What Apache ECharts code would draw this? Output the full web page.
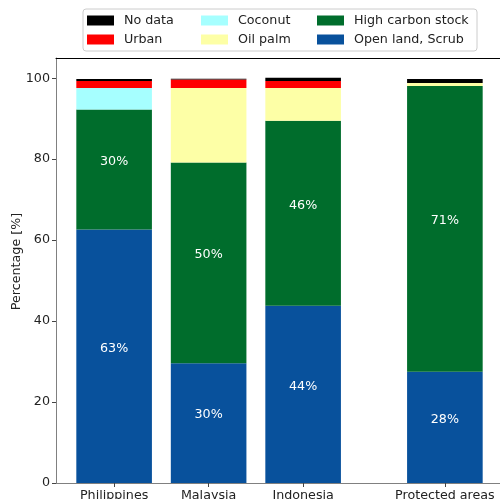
<!DOCTYPE html>
<html>
<head>
<meta charset="utf-8">
<script src="https://cdn.jsdelivr.net/npm/echarts@6/dist/echarts.min.js"></script>
<style>
  html, body { margin: 0; padding: 0; background: #fff; }
  #chart { width: 500px; height: 499px; }
</style>
</head>
<body>
<div id="chart"></div>
<script>
// bar names and where they sit on the x axis (gap before the last one)
var categories = ['Philippines', 'Malaysia', 'Indonesia', 'Protected areas'];
var positions = [0, 1, 2, 3.5];

// percentages, stacked bottom to top
var openLand = [62.6, 29.6, 43.8, 27.5];
var highCarbon = [29.7, 49.6, 45.7, 70.6];
var oilPalm = [0, 18.4, 8.1, 0.7];
var coconut = [5.3, 0, 0, 0];
var urban = [1.7, 2.1, 1.7, 0];
var noData = [0.5, 0.15, 0.8, 1.0];

var yTicks = [0, 20, 40, 60, 80, 100];

var font = 'DejaVu Sans';
var fs = 12.7;

// value first so the stack runs on y, position second (mapped to x by encode)
function pairs(values) {
  return values.map(function (v, i) { return [v, positions[i]]; });
}

function makeSeries(name, values, color, withLabel) {
  var s = {
    name: name,
    type: 'bar',
    stack: 'total',
    barWidth: 75.6,
    encode: { x: 1, y: 0 },
    itemStyle: { color: color },
    data: pairs(values)
  };
  if (withLabel) {
    s.label = {
      show: true,
      position: 'inside',
      offset: [0, -8],
      color: '#ffffff',
      fontFamily: font,
      fontSize: fs,
      formatter: function (p) { return Math.round(p.value[0]) + '%'; }
    };
  }
  return s;
}

function legendBlock(left, names) {
  return {
    orient: 'vertical',
    left: left,
    top: 14,
    padding: 0,
    itemWidth: 27,
    itemHeight: 10,
    itemGap: 6,
    icon: 'rect',
    selectedMode: false,
    textStyle: { fontFamily: font, fontSize: fs, color: '#222', padding: [0, 0, 0, 5] },
    data: names
  };
}

var chart = echarts.init(document.getElementById('chart'));
var option = {
  animation: false,
  graphic: [{
    type: 'rect',
    z: -1,
    shape: { x: 83, y: 9, width: 394, height: 42, r: 3 },
    style: { fill: '#fff', stroke: '#cccccc', lineWidth: 1 }
  }],
  legend: [
    legendBlock(87, ['No data', 'Urban']),
    legendBlock(201, ['Coconut', 'Oil palm']),
    legendBlock(317, ['High carbon stock', 'Open land, Scrub'])
  ],
  grid: { left: 56, top: 58, width: 447, height: 425, containLabel: false, outerBoundsMode: 'none' },
  xAxis: [{
    type: 'value',
    min: -0.615,
    max: 4.115,
    splitLine: { show: false },
    axisLine: { onZero: false, lineStyle: { color: '#808080', width: 1 } },
    axisTick: { customValues: positions, length: 4, lineStyle: { color: '#444' } },
    axisLabel: {
      customValues: positions,
      margin: 6,
      fontFamily: font,
      fontSize: fs,
      color: '#222',
      formatter: function (v) {
        var i = positions.indexOf(v);
        return i >= 0 ? categories[i] : '';
      }
    }
  }, {
    type: 'value',
    position: 'top',
    min: -0.615,
    max: 4.115,
    splitLine: { show: false },
    axisLine: { onZero: false, lineStyle: { color: '#000', width: 1 } },
    axisTick: { show: false },
    axisLabel: { show: false }
  }],
  yAxis: {
    type: 'value',
    min: 0,
    max: 105,
    name: 'Percentage [%]',
    nameLocation: 'middle',
    nameGap: 33,
    nameMoveOverlap: false,
    nameTextStyle: { fontFamily: font, fontSize: fs, color: '#222', padding: [0, 0, 0, 18] },
    splitLine: { show: false },
    axisLine: { show: true, onZero: false, lineStyle: { color: '#808080', width: 1 } },
    axisTick: { show: true, customValues: yTicks, length: 4, lineStyle: { color: '#444' } },
    axisLabel: { customValues: yTicks, margin: 6, fontFamily: font, fontSize: fs, color: '#222' }
  },
  series: [
    makeSeries('Open land, Scrub', openLand, '#08519c', true),
    makeSeries('High carbon stock', highCarbon, '#006d2c', true),
    makeSeries('Oil palm', oilPalm, '#fdffa6', false),
    makeSeries('Coconut', coconut, '#a6ffff', false),
    makeSeries('Urban', urban, '#ff0000', false),
    makeSeries('No data', noData, '#000000', false)
  ]
};
chart.setOption(option);
</script>
</body>
</html>
